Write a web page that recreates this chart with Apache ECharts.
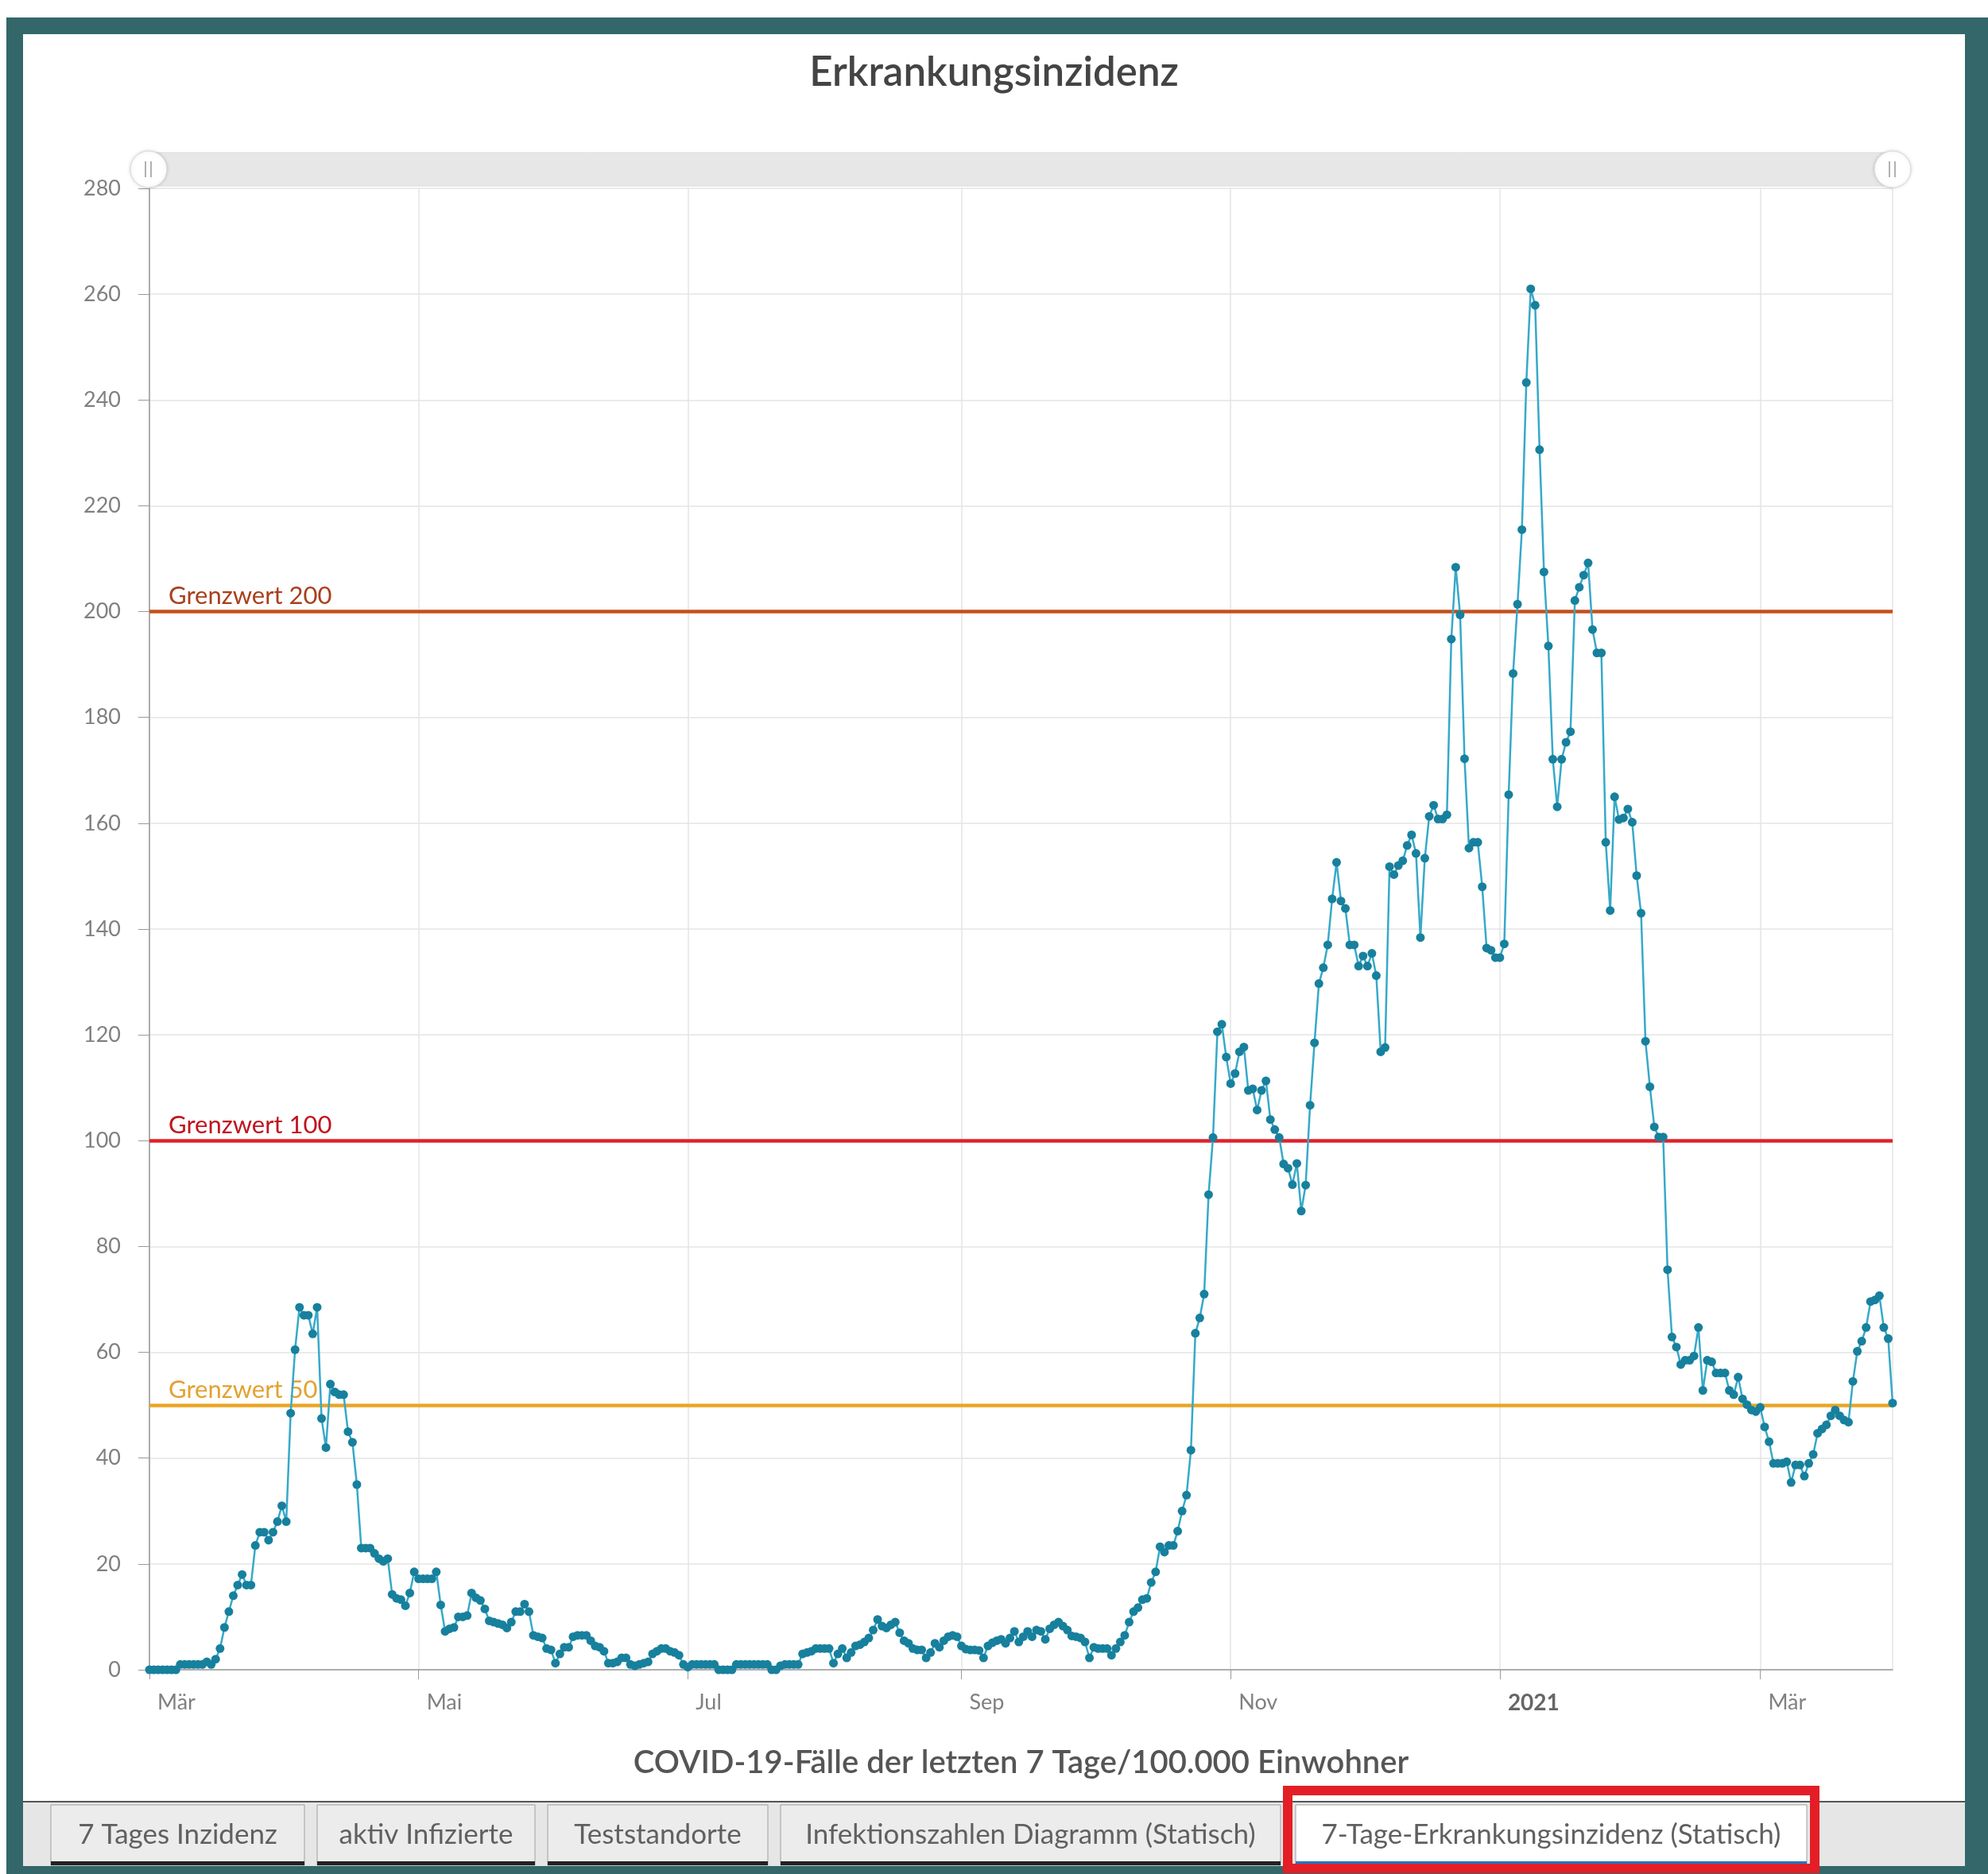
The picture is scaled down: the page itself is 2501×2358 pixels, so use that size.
<!DOCTYPE html>
<html>
<head>
<meta charset="utf-8">
<script src="https://cdn.jsdelivr.net/npm/echarts@6/dist/echarts.min.js"></script>
<style>
html, body { margin: 0; padding: 0; background: #fff; }
#chart { width: 2501px; height: 2358px; }
</style>
</head>
<body>
<div id="chart"></div>
<script>
// 7-Tage-Inzidenz, one value per day, one array per month
const mar2020 = [0, 0, 0, 0, 0, 0, 0, 1, 1, 1, 1, 1, 1, 1.5, 1, 2, 4, 8, 11, 14, 16, 18, 16, 16, 23.5, 26, 26, 24.5, 26, 28, 31];
const apr2020 = [28, 48.5, 60.5, 68.5, 67, 67, 63.5, 68.5, 47.5, 42, 54, 52.5, 52, 52, 45, 43, 35, 23, 23, 23, 22, 21, 20.5, 21, 14.25, 13.5, 13.25, 12.1, 14.5, 18.5];
const may2020 = [17.2, 17.2, 17.2, 17.2, 18.5, 12.25, 7.25, 7.75, 8, 10, 10, 10.25, 14.5, 13.6, 13.1, 11.5, 9.25, 9, 8.75, 8.5, 7.9, 9, 11, 11, 12.4, 11, 6.5, 6.25, 6, 4, 3.75];
const jun2020 = [1.25, 3, 4.25, 4.25, 6.25, 6.5, 6.5, 6.5, 5.5, 4.5, 4.25, 3.5, 1.25, 1.25, 1.5, 2.25, 2.25, 1, 0.75, 1, 1.25, 1.5, 3, 3.5, 4, 4, 3.5, 3.25, 2.75, 1];
const jul2020 = [0.5, 1, 1, 1, 1, 1, 1, 0, 0, 0, 0, 1, 1, 1, 1, 1, 1, 1, 1, 0, 0, 0.75, 1, 1, 1, 1, 3, 3.25, 3.5, 4, 4];
const aug2020 = [4, 4, 1.25, 3, 4, 2.25, 3.25, 4.5, 4.75, 5.25, 6, 7.5, 9.5, 8.25, 7.9, 8.5, 9, 7, 5.5, 5, 4, 3.75, 3.75, 2.25, 3.25, 5, 4.25, 5.5, 6.25, 6.5, 6.25];
const sep2020 = [4.5, 3.9, 3.75, 3.75, 3.65, 2.25, 4.5, 5.1, 5.5, 5.75, 5, 6, 7.25, 5.25, 6.25, 7.25, 6.25, 7.5, 7.25, 5.75, 7.75, 8.5, 9, 8.25, 7.5, 6.4, 6.25, 6, 5.25, 2.25];
const oct2020 = [4.25, 4, 4, 4, 2.75, 4, 5.25, 6.5, 9, 11, 11.75, 13.25, 13.5, 16.5, 18.5, 23.25, 22.25, 23.5, 23.5, 26.2, 30, 33, 41.5, 63.6, 66.5, 71, 89.8, 100.6, 120.6, 122, 115.8];
const nov2020 = [110.8, 112.7, 116.8, 117.7, 109.5, 109.8, 105.8, 109.5, 111.3, 104, 102.1, 100.6, 95.6, 94.8, 91.7, 95.7, 86.7, 91.6, 106.7, 118.5, 129.7, 132.7, 137, 145.7, 152.6, 145.3, 143.9, 137, 137, 133];
const dec2020 = [134.9, 133, 135.4, 131.2, 116.8, 117.6, 151.8, 150.3, 152, 152.9, 155.8, 157.8, 154.3, 138.4, 153.4, 161.3, 163.4, 160.8, 160.8, 161.6, 194.8, 208.4, 199.4, 172.2, 155.3, 156.4, 156.4, 148, 136.4, 136, 134.6];
const jan2021 = [134.6, 137.2, 165.4, 188.3, 201.4, 215.5, 243.3, 261, 257.9, 230.6, 207.5, 193.5, 172.1, 163.1, 172.1, 175.3, 177.3, 202.1, 204.6, 206.9, 209.2, 196.6, 192.2, 192.2, 156.4, 143.5, 165, 160.7, 161, 162.7, 160.2];
const feb2021 = [150.1, 143, 118.8, 110.2, 102.6, 100.7, 100.7, 75.6, 62.9, 61, 57.7, 58.5, 58.5, 59.3, 64.7, 52.8, 58.5, 58.2, 56.1, 56.1, 56.1, 52.8, 52, 55.3, 51.2, 50.1, 49.1, 48.8];
const mar2021 = [49.6, 45.9, 43.1, 39, 39, 39, 39.3, 35.4, 38.7, 38.7, 36.6, 39, 40.7, 44.7, 45.5, 46.3, 48, 49.1, 48, 47.2, 46.8, 54.5, 60.2, 62.1, 64.7, 69.6, 69.9, 70.7, 64.7, 62.6, 50.4];

const months = [mar2020, apr2020, may2020, jun2020, jul2020, aug2020, sep2020, oct2020, nov2020, dec2020, jan2021, feb2021, mar2021];
const firstMonth = [2020, 2]; // March 2020

const thresholdValues = [200, 100, 50];
const thresholdNames = ['Grenzwert 200', 'Grenzwert 100', 'Grenzwert 50'];
const monthNames = ['Jan', 'Feb', 'Mär', 'Apr', 'Mai', 'Jun', 'Jul', 'Aug', 'Sep', 'Okt', 'Nov', 'Dez'];
const tabLabels = ['7 Tages Inzidenz', 'aktiv Infizierte', 'Teststandorte', 'Infektionszahlen Diagramm (Statisch)', '7-Tage-Erkrankungsinzidenz (Statisch)'];

// build [time, value] pairs from the month arrays
const points = [];
months.forEach((vals, m) => {
    vals.forEach((v, i) => {
        points.push([new Date(firstMonth[0], firstMonth[1] + m, i + 1).getTime(), v]);
    });
});

const FONT = 'Lato, "Open Sans", sans-serif';
const TEAL = '#33676a';
const thresholdLine = ['#c4501d', '#e0202c', '#e9a626'];
const thresholdText = ['#a8401c', '#c0141e', '#e3a230'];

// page furniture (frame, tab bar, slider look)
const tabBoxes = [[64, 319], [399, 274], [689, 277], [982, 629], [1630, 643]];
const graphics = [
    { type: 'rect', z: -20, shape: { x: 8, y: 22, width: 2493, height: 2336 }, style: { fill: TEAL } },
    { type: 'rect', z: -19, shape: { x: 29, y: 43, width: 2443, height: 2225 }, style: { fill: '#fff' } },
    { type: 'rect', z: -19, shape: { x: 29, y: 2268, width: 2443, height: 80 }, style: { fill: '#e6e6e6' } },
    { type: 'rect', z: -18, shape: { x: 29, y: 2266, width: 2443, height: 2 }, style: { fill: '#555' } },
    // slider
    { type: 'rect', z: 50, shape: { x: 187, y: 192, width: 2194, height: 42 }, style: { fill: '#e7e7e7', stroke: '#dcdcdc', lineWidth: 1 } }
];
[187, 2381].forEach(cx => {
    graphics.push({ type: 'circle', z: 51, shape: { cx: cx, cy: 213, r: 23 },
        style: { fill: '#fff', stroke: '#d8d8d8', lineWidth: 1, shadowBlur: 4, shadowColor: 'rgba(0,0,0,0.15)' } });
    graphics.push({ type: 'line', z: 52, shape: { x1: cx - 4, y1: 203, x2: cx - 4, y2: 223 }, style: { stroke: '#999', lineWidth: 1.5 } });
    graphics.push({ type: 'line', z: 52, shape: { x1: cx + 3, y1: 203, x2: cx + 3, y2: 223 }, style: { stroke: '#999', lineWidth: 1.5 } });
});
tabLabels.forEach((label, i) => {
    const [x, w] = tabBoxes[i];
    const active = i === tabLabels.length - 1;
    graphics.push({ type: 'rect', z: -17, shape: { x: x, y: 2271, width: w, height: 76 },
        style: { fill: active ? '#fff' : '#ececec', stroke: '#a0a0a0', lineWidth: 1 } });
    graphics.push({ type: 'rect', z: -16, shape: { x: x, y: 2342, width: w, height: 5 },
        style: { fill: active ? '#1f78c4' : '#222' } });
    graphics.push({ type: 'text', z: -15, x: x + w / 2, y: 2309,
        style: { text: label, fill: '#606060', font: '35px ' + FONT, textAlign: 'center', textVerticalAlign: 'middle' } });
});
graphics.push({ type: 'rect', z: 60, shape: { x: 1620, y: 2253, width: 663, height: 98 },
    style: { fill: 'none', stroke: '#e41e26', lineWidth: 12 } });

const chart = echarts.init(document.getElementById('chart'));
chart.setOption({
    animation: false,
    backgroundColor: '#fff',
    textStyle: { fontFamily: FONT },
    title: {
        text: 'Erkrankungsinzidenz',
        left: 'center',
        top: 66,
        padding: 0,
        textStyle: { fontSize: 51, fontWeight: 600, color: '#444', fontFamily: FONT }
    },
    graphic: graphics,
    grid: { left: 188, right: 120, top: 237, bottom: 257, outerBoundsMode: 'none' },
    xAxis: {
        type: 'time',
        min: new Date(2020, 2, 1).getTime(),
        max: new Date(2021, 2, 31).getTime(),
        splitNumber: 6,
        minInterval: 61 * 86400000,
        maxInterval: 61 * 86400000,
        name: 'COVID-19-Fälle der letzten 7 Tage/100.000 Einwohner',
        nameLocation: 'middle',
        nameGap: 97,
        nameTextStyle: { fontSize: 40, fontWeight: 600, color: '#555', fontFamily: FONT },
        axisLine: { lineStyle: { color: '#9a9a9a', width: 1.5 } },
        axisTick: { show: true, length: 12, lineStyle: { color: '#9a9a9a' } },
        splitLine: { show: true, lineStyle: { color: '#e4e4e4', width: 1.5 } },
        axisLabel: {
            fontSize: 27,
            color: '#808080',
            margin: 28,
            align: 'left',
            padding: [0, 0, 0, 10],
            hideOverlap: false,
            formatter: function (val) {
                const d = new Date(val);
                if (d.getMonth() === 0) return '{yr|' + d.getFullYear() + '}';
                return monthNames[d.getMonth()];
            },
            rich: { yr: { fontSize: 28, fontWeight: 'bold', color: '#666', fontFamily: FONT } }
        }
    },
    yAxis: {
        type: 'value',
        min: 0,
        max: 280,
        interval: 20,
        axisLine: { show: true, lineStyle: { color: '#9a9a9a', width: 1.5 } },
        axisTick: { show: true, length: 14, lineStyle: { color: '#9a9a9a' } },
        splitLine: { lineStyle: { color: '#e4e4e4', width: 1.5 } },
        axisLabel: { fontSize: 27, color: '#808080', margin: 36 }
    },
    series: [{
        type: 'line',
        data: points,
        showSymbol: true,
        showAllSymbol: true,
        symbol: 'circle',
        symbolSize: 11,
        z: 5,
        lineStyle: { color: '#36a9c9', width: 2.5 },
        itemStyle: { color: '#17809d' },
        markLine: {
            silent: true,
            symbol: 'none',
            z: 3,
            label: {
                show: true,
                position: 'insideStartTop',
                formatter: '{b}',
                fontSize: 31,
                fontFamily: FONT,
                distance: [24, 4]
            },
            data: thresholdValues.map((v, i) => ({
                name: thresholdNames[i],
                yAxis: v,
                lineStyle: { color: thresholdLine[i], width: 4.5, type: 'solid' },
                label: { color: thresholdText[i] }
            }))
        }
    }]
});
</script>
</body>
</html>
